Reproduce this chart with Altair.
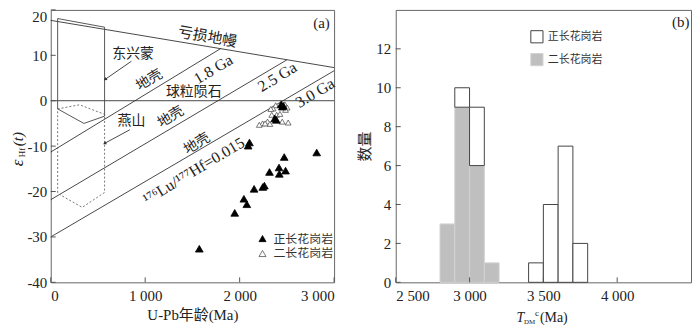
import altair as alt
import pandas as pd

FONT = "Liberation Serif, Noto Sans CJK SC"
TXT = "#222222"
LINE = "#333333"

# ---------------- Panel (a): εHf(t) vs U-Pb age ----------------
# 正长花岗岩 (filled triangles)
ortho_age = [2440, 2462, 2452, 2372, 2388, 2104, 2090, 2472, 2816, 2417,
             2486, 2316, 2420, 2262, 2245, 2153, 2045, 2076, 1948, 1573]
ortho_ehf = [-0.8, -1.1, -1.3, -3.9, -4.2, -9.2, -9.9, -12.4, -11.4, -14.7,
             -15.4, -15.7, -16.1, -18.7, -19.0, -19.4, -21.6, -22.8, -24.7, -32.6]
# 二长花岗岩 (open triangles)
mono_age = [2382, 2354, 2479, 2503, 2486, 2330, 2340, 2392, 2427, 2243,
            2295, 2320, 2451, 2514, 2208, 2270]
mono_ehf = [-1.0, -1.7, -0.8, -1.5, -2.0, -1.8, -3.1, -3.1, -2.9, -5.0,
            -4.6, -5.1, -4.6, -4.8, -5.3, -5.0]

# reference lines
dm_age, dm_ehf = [0, 3000], [17.7, 7.3]            # 亏损地幔
chur_age, chur_ehf = [0, 3000], [0, 0]             # 球粒陨石
c18_age, c18_ehf = [0, 1800], [-11.3, 11.5]        # 1.8 Ga crust
c25_age, c25_ehf = [0, 2500], [-21.8, 9.0]         # 2.5 Ga crust
c30_age, c30_ehf = [0, 3000], [-30.0, 6.6]         # 3.0 Ga crust

# field outlines
dxm_age = [73, 570, 570, 351, 73, 73]              # 东兴蒙 (solid)
dxm_ehf = [18.1, 16.2, -3.4, -5.0, -1.8, 18.1]
ys_age = [73, 305, 570, 570, 333, 73, 73]          # 燕山 (dotted)
ys_ehf = [-1.8, -0.9, -3.0, -20.2, -23.5, -20.4, -1.8]

# pointer lines
arr1_age, arr1_ehf = [854, 576], [8.7, 4.7]
arr2_age, arr2_ehf = [837, 570], [-6.4, -9.4]
head_age, head_ehf, head_ang = [576, 570], [4.7, -9.4], [236, 242]

# in-plot labels
lab_text = ["亏损地幔", "1.8 Ga", "地壳", "球粒陨石", "2.5 Ga", "燕山", "地壳",
            "3.0 Ga", "地壳", "¹⁷⁶Lu/¹⁷⁷Hf=0.015", "东兴蒙", "(a)"]
lab_age = [1660, 1722, 1045, 1514, 2399, 854, 1271, 2799, 1549, 1514, 872, 2866]
lab_ehf = [14.1, 6.9, 4.5, 1.9, 5.2, -4.4, -3.6, 1.7, -9.5, -15.5, 10.2, 17.1]
lab_angle = [10, 329, 329, 0, 329, 0, 329, 329, 329, 329, 0, 0]
lab_size = [15, 16, 14, 14, 16, 14, 14, 16, 14, 16, 14, 15]

a_xticks = [0, 1000, 2000, 3000]
a_yticks = [-40, -30, -20, -10, 0, 10, 20]

# ---------------- Panel (b): TDM histogram ----------------
bin_start = [2800, 2900, 3000, 3100, 3200, 3300, 3400, 3500, 3600, 3700]
bin_width = 100
mono_count = [3, 9, 6, 1, 0, 0, 0, 0, 0, 0]     # 二长花岗岩 (grey)
ortho_count = [0, 1, 3, 0, 0, 0, 1, 4, 7, 2]    # 正长花岗岩 (white, stacked on top)
b_xticks = [2500, 3000, 3500, 4000]
b_yticks = [0, 2, 4, 6, 8, 10, 12]

TYPES = ["正长花岗岩", "二长花岗岩"]

W1, W2, H = 285, 297, 274

# ---------------- build panel (a) ----------------
xa = alt.Scale(domain=[0, 3000], nice=False, zero=False)
ya = alt.Scale(domain=[-40, 20], nice=False, zero=False)


def seg_df(d):
    rows = []
    for name, (xs, ys) in d.items():
        for i, (x, y) in enumerate(zip(xs, ys)):
            rows.append(dict(line=name, i=i, age=x, ehf=y))
    return pd.DataFrame(rows)


ref_df = seg_df({"dm": (dm_age, dm_ehf), "chur": (chur_age, chur_ehf),
                 "c18": (c18_age, c18_ehf), "c25": (c25_age, c25_ehf),
                 "c30": (c30_age, c30_ehf),
                 "a1": (arr1_age, arr1_ehf), "a2": (arr2_age, arr2_ehf)})
dxm_df = seg_df({"dxm": (dxm_age, dxm_ehf)})
ys_df = seg_df({"ys": (ys_age, ys_ehf)})

x_axis_a = alt.Axis(values=a_xticks, labelExpr="replace(format(datum.value, ','), ',', ' ')",
                    labelFlush=True, labelPadding=6, title="U-Pb年龄(Ma)", titlePadding=4)
y_axis_a = alt.Axis(values=a_yticks, labelExpr="'' + datum.value", labelPadding=4, title=None,
                    labelBaseline={"condition": {"test": "datum.value == 20", "value": "top"},
                                   "value": "middle"})


def X():
    return alt.X("age:Q", scale=xa, axis=x_axis_a)


def Y():
    return alt.Y("ehf:Q", scale=ya, axis=y_axis_a)


lines_a = alt.Chart(ref_df).mark_line(color=LINE, strokeWidth=0.9).encode(
    x=X(), y=Y(), detail="line:N", order="i:Q")
dxm = alt.Chart(dxm_df).mark_line(color="#444444", strokeWidth=0.9).encode(
    x=X(), y=Y(), detail="line:N", order="i:Q")
ys = alt.Chart(ys_df).mark_line(color="#666666", strokeWidth=0.9, strokeDash=[2, 2]).encode(
    x=X(), y=Y(), detail="line:N", order="i:Q")
heads = alt.Chart(pd.DataFrame({"age": head_age, "ehf": head_ehf, "ang": head_ang})).mark_point(
    shape="triangle-up", filled=True, color=LINE, size=14, opacity=1).encode(
    x=X(), y=Y(), angle=alt.Angle("ang:Q", scale=None))

lab_df = pd.DataFrame({"label": lab_text, "age": lab_age, "ehf": lab_ehf,
                       "ang": lab_angle, "sz": lab_size})
labels_a = alt.Chart(lab_df).mark_text(font=FONT, color=TXT, align="center", baseline="middle").encode(
    x=X(), y=Y(), text="label:N", angle=alt.Angle("ang:Q", scale=None),
    size=alt.Size("sz:Q", scale=None, legend=None))

leg_a = alt.Legend(title=None, orient="none", legendX=207, legendY=224, symbolType="triangle-up",
                   symbolSize=50, labelFont=FONT, labelFontSize=12, labelColor="#333333",
                   rowPadding=3, labelOffset=5, padding=0, symbolStrokeWidth=0.8)
fill_a = alt.Scale(domain=TYPES, range=["#000000", "#ffffff"])
stroke_a = alt.Scale(domain=TYPES, range=["#000000", "#555555"])

mono_pts = alt.Chart(pd.DataFrame({"age": mono_age, "ehf": mono_ehf, "type": TYPES[1]})).mark_point(
    shape="triangle-up", strokeWidth=0.8, opacity=1, size=34).encode(
    x=X(), y=Y(),
    fill=alt.Fill("type:N", scale=fill_a, legend=leg_a),
    stroke=alt.Stroke("type:N", scale=stroke_a, legend=leg_a))
ortho_pts = alt.Chart(pd.DataFrame({"age": ortho_age, "ehf": ortho_ehf, "type": TYPES[0]})).mark_point(
    shape="triangle-up", strokeWidth=0.8, opacity=1, size=60).encode(
    x=X(), y=Y(),
    fill=alt.Fill("type:N", scale=fill_a, legend=leg_a),
    stroke=alt.Stroke("type:N", scale=stroke_a, legend=leg_a))

xt_a = alt.Chart(pd.DataFrame({"age": a_xticks})).mark_rule(color="#555555").encode(
    x=X(), y=alt.value(H), y2=alt.value(H - 5))
yt_a = alt.Chart(pd.DataFrame({"ehf": a_yticks})).mark_rule(color="#555555").encode(
    y=Y(), x=alt.value(0), x2=alt.value(5))

one = pd.DataFrame({"k": [0]})
yt1 = alt.Chart(one).mark_text(text="ε", font=FONT, fontSize=17, fontStyle="italic", angle=270,
                               align="center", baseline="middle", color=TXT).encode(
    x=alt.value(-33), y=alt.value(154))
yt2 = alt.Chart(one).mark_text(text="Hf", font=FONT, fontSize=9, angle=270,
                               align="center", baseline="middle", color=TXT).encode(
    x=alt.value(-29), y=alt.value(143.5))
yt3 = alt.Chart(one).mark_text(text="(t)", font=FONT, fontSize=15, fontStyle="italic", angle=270,
                               align="center", baseline="middle", color=TXT).encode(
    x=alt.value(-33), y=alt.value(130))

panel_a = alt.layer(lines_a, dxm, ys, heads, labels_a, xt_a, yt_a, mono_pts, ortho_pts,
                    yt1, yt2, yt3).properties(width=W1, height=H)

# ---------------- build panel (b) ----------------
xb = alt.Scale(domain=[2500, 4500], nice=False, zero=False)
yb = alt.Scale(domain=[0, 14], nice=False)

rows = []
for s, m, o in zip(bin_start, mono_count, ortho_count):
    if m > 0:
        rows.append(dict(start=s, end=s + bin_width, y0=0, y1=m, type=TYPES[1]))
    if o > 0:
        rows.append(dict(start=s, end=s + bin_width, y0=m, y1=m + o, type=TYPES[0]))
hist_df = pd.DataFrame(rows)

x_axis_b = alt.Axis(values=b_xticks, labelExpr="replace(format(datum.value, ','), ',', ' ')",
                    labelFlush=True, labelPadding=6, title=None)
y_axis_b = alt.Axis(values=b_yticks, labelPadding=5, title="数量", titlePadding=3)


def XB():
    return alt.X("start:Q", scale=xb, axis=x_axis_b)


def YB():
    return alt.Y("y0:Q", scale=yb, axis=y_axis_b)


leg_b = alt.Legend(title=None, orient="none", legendX=135, legendY=20, symbolType="square",
                   symbolSize=150, labelFont=FONT, labelFontSize=11, labelColor="#333333",
                   rowPadding=5, labelOffset=4, padding=0, symbolStrokeWidth=1)
bars = alt.Chart(hist_df).mark_bar(strokeWidth=1, opacity=1).encode(
    x=XB(), x2="end:Q", y=YB(), y2="y1:Q",
    fill=alt.Fill("type:N", scale=alt.Scale(domain=TYPES, range=["#ffffff", "#bfbfbf"]), legend=leg_b),
    stroke=alt.Stroke("type:N", scale=alt.Scale(domain=TYPES, range=["#444444", "#d2d2d2"]), legend=leg_b),
)
xt_b = alt.Chart(pd.DataFrame({"start": b_xticks})).mark_rule(color="#555555").encode(
    x=XB(), y=alt.value(H), y2=alt.value(H - 5))
yt_b = alt.Chart(pd.DataFrame({"y0": b_yticks})).mark_rule(color="#555555").encode(
    y=YB(), x=alt.value(0), x2=alt.value(5))
tag_b = alt.Chart(pd.DataFrame({"start": [4430], "y0": [13.4], "t": ["(b)"]})).mark_text(
    font=FONT, fontSize=15, color=TXT).encode(x=XB(), y=YB(), text="t:N")

cx = W2 / 2
tb = H + 40
xt1 = alt.Chart(one).mark_text(text="T", font=FONT, fontSize=14, fontStyle="italic", align="left",
                               baseline="alphabetic", color=TXT).encode(x=alt.value(cx - 27), y=alt.value(tb))
xt2 = alt.Chart(one).mark_text(text="DM", font=FONT, fontSize=7, align="left",
                               baseline="alphabetic", color=TXT).encode(x=alt.value(cx - 19.5), y=alt.value(tb + 2))
xt3 = alt.Chart(one).mark_text(text="c", font=FONT, fontSize=9, align="left",
                               baseline="alphabetic", color=TXT).encode(x=alt.value(cx - 8.5), y=alt.value(tb - 6))
xt4 = alt.Chart(one).mark_text(text="(Ma)", font=FONT, fontSize=14, align="left",
                               baseline="alphabetic", color=TXT).encode(x=alt.value(cx - 3.5), y=alt.value(tb))

panel_b = alt.layer(bars, xt_b, yt_b, tag_b, xt1, xt2, xt3, xt4).properties(width=W2, height=H)

chart = alt.hconcat(panel_a, panel_b, spacing=19).resolve_scale(
    fill="independent", stroke="independent"
).resolve_legend(
    fill="independent", stroke="independent"
).properties(
    padding=0
).configure_view(
    stroke="#666666", strokeWidth=1
).configure_axis(
    labelFont=FONT, titleFont=FONT, labelColor=TXT, titleColor=TXT,
    labelFontSize=15, titleFontSize=15, titleFontWeight="normal",
    grid=False, domain=False, ticks=False
)

chart.save("out.html", embed_options={"renderer": "svg", "actions": False})
